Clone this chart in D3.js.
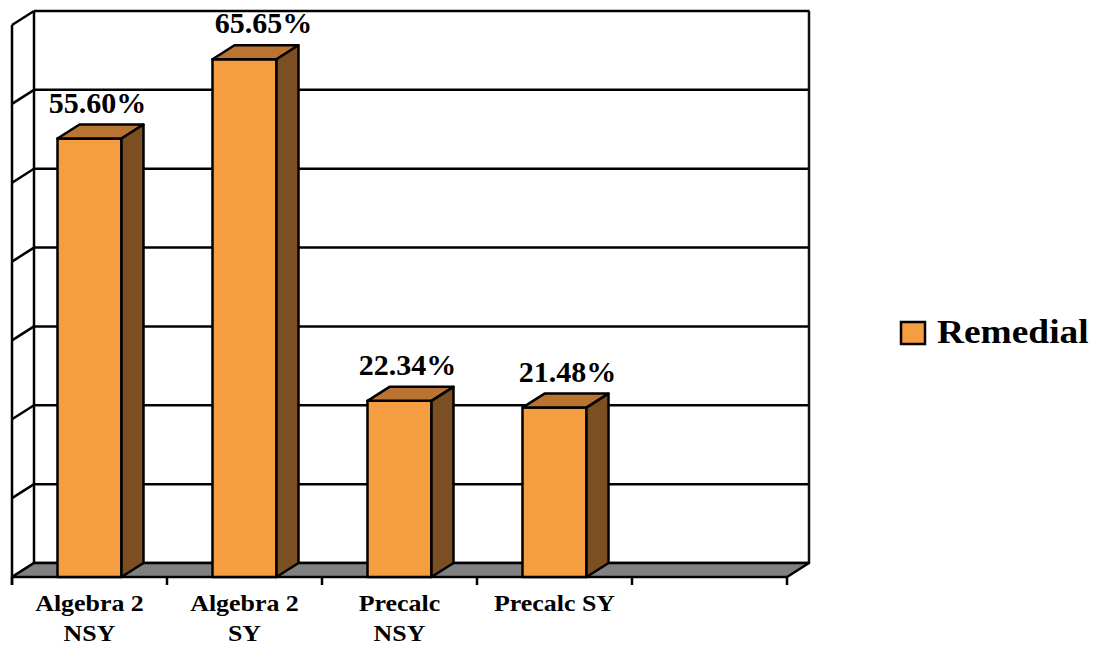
<!DOCTYPE html>
<html lang="en">
<head>
<meta charset="UTF-8">
<title>Remedial</title>
<style>
  body { margin: 0; background: #fff; }
  text { font-family: "Liberation Serif", "Times New Roman", serif; font-weight: bold; fill: #000; }
</style>
</head>
<body>
<svg width="1101" height="645"></svg>
<script src="https://d3js.org/d3.v7.min.js"></script>
<script>
// data
var categories = ["Algebra 2|NSY", "Algebra 2|SY", "Precalc|NSY", "Precalc SY", ""];
var values = [55.60, 65.65, 22.34, 21.48];
var valueLabels = ["55.60%", "65.65%", "22.34%", "21.48%"];
var yTicks = [0, 10, 20, 30, 40, 50, 60, 70];
var seriesName = "Remedial";

// small horizontal nudges of the value labels, as placed in the original
var labelNudge = [0, 11, 0, 5];

var svg = d3.select("svg");

// 3d depth offset: back = front + (dx, dy)
var dx = 22, dy = -14;
var frontLeft = 12, frontRight = 787, floorY = 577;

var x = d3.scaleBand()
    .domain(categories)
    .range([frontLeft, frontRight])
    .paddingInner(0.587)
    .paddingOuter(0.2935);

// y scale measured on the back wall
var y = d3.scaleLinear().domain([0, 70]).range([floorY + dy, 11]);

var colFront = "#F59D41", colTop = "#B97431", colSide = "#7B4F22";
var sw = 2.5;

// back wall gridlines
svg.append("g").selectAll("line")
    .data(yTicks)
    .join("line")
    .attr("x1", frontLeft + dx).attr("x2", frontRight + dx + 0.5)
    .attr("y1", d => y(d)).attr("y2", d => y(d))
    .attr("stroke", "#000").attr("stroke-width", sw);

// back wall side edges
svg.append("line")
    .attr("x1", frontLeft + dx).attr("x2", frontLeft + dx)
    .attr("y1", y(70)).attr("y2", y(0))
    .attr("stroke", "#000").attr("stroke-width", sw);
svg.append("line")
    .attr("x1", frontRight + dx).attr("x2", frontRight + dx)
    .attr("y1", y(70)).attr("y2", y(0))
    .attr("stroke", "#111").attr("stroke-width", sw);

// left wall
svg.append("line")
    .attr("x1", frontLeft).attr("x2", frontLeft)
    .attr("y1", y(70) - dy).attr("y2", floorY + 8)
    .attr("stroke", "#000").attr("stroke-width", sw);
svg.append("g").selectAll("line")
    .data(yTicks)
    .join("line")
    .attr("x1", frontLeft).attr("y1", d => y(d) - dy)
    .attr("x2", frontLeft + dx).attr("y2", d => y(d))
    .attr("stroke", "#000").attr("stroke-width", sw);

// floor
svg.append("path")
    .attr("d", "M" + frontLeft + "," + floorY +
        "L" + (frontLeft + dx) + "," + (floorY + dy) +
        "L" + (frontRight + dx) + "," + (floorY + dy) +
        "L" + frontRight + "," + floorY + "Z")
    .attr("fill", "#808080")
    .attr("stroke", "#000").attr("stroke-width", sw)
    .attr("stroke-linejoin", "round");

// category ticks on the front floor edge
var step = x.step();
svg.append("g").selectAll("line")
    .data(d3.range(categories.length + 1))
    .join("line")
    .attr("x1", i => frontLeft + i * step).attr("x2", i => frontLeft + i * step)
    .attr("y1", floorY).attr("y2", floorY + 8)
    .attr("stroke", "#000").attr("stroke-width", sw);

// bars
var bw = x.bandwidth();
var bars = svg.append("g").selectAll("g")
    .data(values)
    .join("g");

bars.each(function (v, i) {
    var g = d3.select(this);
    var x0 = x(categories[i]), x1 = x0 + bw;
    var yf = y(v) - dy; // front top
    var pts = function (arr) { return arr.map(p => p.join(",")).join(" "); };
    g.append("polygon")
        .attr("points", pts([[x0, yf], [x1, yf], [x1, floorY], [x0, floorY]]))
        .attr("fill", colFront);
    g.append("polygon")
        .attr("points", pts([[x0, yf], [x1, yf], [x1 + dx, yf + dy], [x0 + dx, yf + dy]]))
        .attr("fill", colTop);
    g.append("polygon")
        .attr("points", pts([[x1, yf], [x1 + dx, yf + dy], [x1 + dx, floorY + dy], [x1, floorY]]))
        .attr("fill", colSide);
    g.selectAll("polygon")
        .attr("stroke", "#000").attr("stroke-width", sw)
        .attr("stroke-linejoin", "round");

    g.append("text")
        .attr("x", x0 + bw / 2 + dx / 2 - 3 + labelNudge[i])
        .attr("y", y(v) - 12)
        .attr("text-anchor", "middle")
        .style("font-size", "30px")
        .text(valueLabels[i]);
});

// category labels
var lab = svg.append("g").selectAll("text")
    .data(categories)
    .join("text")
    .attr("text-anchor", "middle")
    .attr("transform", d => "translate(" + (x(d) + bw / 2) + ",611) scale(1.08,1)")
    .style("font-size", "24px");
lab.each(function (d) {
    var t = d3.select(this);
    d.split("|").forEach(function (s, k) {
        t.append("tspan").attr("x", 0).attr("y", k * 30).text(s);
    });
});

// legend
var leg = svg.append("g").attr("transform", "translate(901,322)");
leg.append("rect")
    .attr("width", 24).attr("height", 22)
    .attr("fill", colFront)
    .attr("stroke", "#000").attr("stroke-width", 2.5);
leg.append("text")
    .attr("transform", "translate(36,21) scale(1.1,1)")
    .style("font-size", "34px")
    .text(seriesName);
</script>
</body>
</html>
